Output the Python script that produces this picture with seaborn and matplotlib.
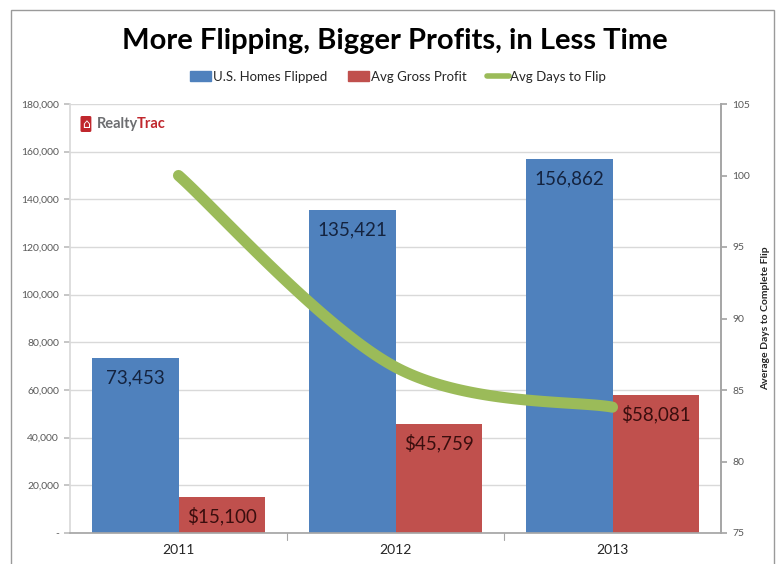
import numpy as np
import pandas as pd
import matplotlib
matplotlib.use("Agg")
import matplotlib.pyplot as plt
import matplotlib.patches as mpatches
from matplotlib.lines import Line2D
import seaborn as sns

years = ["2011", "2012", "2013"]
homes_flipped = [73453, 135421, 156862]
gross_profit = [15100, 45759, 58081]
days_to_flip = [100.0, 86.6, 83.8]
homes_labels = ["73,453", "135,421", "156,862"]
profit_labels = ["$15,100", "$45,759", "$58,081"]
left_ticks = [0, 20000, 40000, 60000, 80000, 100000, 120000, 140000, 160000, 180000]
left_tick_labels = ["-", "20,000", "40,000", "60,000", "80,000", "100,000", "120,000",
                    "140,000", "160,000", "180,000"]
right_ticks = [75, 80, 85, 90, 95, 100, 105]
series_names = ["U.S. Homes Flipped", "Avg Gross Profit", "Avg Days to Flip"]

BLUE = "#4F81BD"
RED = "#C0504D"
GREEN = "#9BBB59"

sns.set_theme(style="white")
plt.rcParams["font.family"] = ["Lato", "DejaVu Sans"]

fig = plt.figure(figsize=(7.81, 5.64), dpi=100)
fig.patch.set_facecolor("white")
ax = fig.add_axes([70 / 781, 1 - 533 / 564, (721 - 70) / 781, (533 - 104) / 564])

df = pd.DataFrame({
    "Year": years * 2,
    "Value": homes_flipped + gross_profit,
    "Series": [series_names[0]] * 3 + [series_names[1]] * 3,
})
sns.barplot(data=df, x="Year", y="Value", hue="Series", order=years,
            hue_order=series_names[:2], palette=[BLUE, RED], width=0.8,
            saturation=1, ax=ax, legend=False, errorbar=None, linewidth=0)

# labels inside top of bars
conts = ax.containers
for cont, labels, col in [(conts[0], homes_labels, "#14233F"), (conts[1], profit_labels, "#3A0E0E")]:
    for rect, lab in zip(cont, labels):
        ax.annotate(lab, (rect.get_x() + rect.get_width() / 2, rect.get_height()),
                    xytext=(0, -14), textcoords="offset points", ha="center", va="center",
                    fontsize=13.5, color=col)

ax.set_ylim(0, 180000)
ax.set_xlim(-0.5, 2.5)
ax.set_yticks(left_ticks)
ax.set_yticklabels(left_tick_labels, fontsize=7.5, color="#595959")
ax.set_xticks(range(3))
ax.set_xticklabels(years, fontsize=10, color="#262626")
ax.tick_params(axis="x", length=0, pad=8)
ax.tick_params(axis="y", length=4, color="#BFBFBF", pad=4, left=True)
ax.set_xlabel("")
ax.set_ylabel("")
ax.grid(axis="y", color="#D9D9D9", linewidth=1)
ax.set_axisbelow(True)
for b in [0.5, 1.5]:
    ax.plot([b, b], [0, -3000], color="#A6A6A6", lw=0.8, clip_on=False)
ax.spines["top"].set_visible(False)
ax.spines["left"].set_color("#D9D9D9")
ax.spines["bottom"].set_color("#A6A6A6")
ax.spines["right"].set_color("#A6A6A6")

# secondary axis: smoothed line (Excel-like Bezier smoothing through the data points)
ax2 = ax.twinx()
xs = np.arange(len(days_to_flip), dtype=float)
ys = np.array(days_to_flip)
P = np.column_stack([xs, ys])
Pext = np.vstack([P[0], P, P[-1]])
t = np.linspace(0, 1, 60)[:, None]
curve = []
for i in range(len(P) - 1):
    p0, p3 = Pext[i + 1], Pext[i + 2]
    c1 = p0 + (Pext[i + 2] - Pext[i]) / 6
    c2 = p3 - (Pext[i + 3] - Pext[i + 1]) / 6
    seg = (1 - t) ** 3 * p0 + 3 * (1 - t) ** 2 * t * c1 + 3 * (1 - t) * t ** 2 * c2 + t ** 3 * p3
    curve.append(seg)
curve = np.vstack(curve)
sns.lineplot(x=curve[:, 0], y=curve[:, 1], ax=ax2, color=GREEN, linewidth=8,
             sort=False, estimator=None, solid_capstyle="round")
ax2.set_ylim(75, 105)
ax2.set_yticks(right_ticks)
ax2.set_yticklabels([str(v) for v in right_ticks], fontsize=7.5, color="#595959")
ax2.tick_params(axis="y", length=4, color="#A6A6A6", pad=4, right=True)
ax2.set_ylabel("Average Days to Complete Flip", fontsize=7.5, fontweight="bold",
               color="#262626", labelpad=8)
ax2.grid(False)
for s in ["top", "left", "bottom"]:
    ax2.spines[s].set_visible(False)
ax2.spines["right"].set_color("#A6A6A6")
ax2.set_xlim(-0.5, 2.5)

# title
fig.text(395 / 781, 1 - 41 / 564, "More Flipping, Bigger Profits, in Less Time",
         ha="center", va="center", fontsize=21, fontweight="bold", color="black")

# legend
handles = [mpatches.Patch(color=BLUE, label=series_names[0]),
           mpatches.Patch(color=RED, label=series_names[1]),
           Line2D([0], [0], color=GREEN, lw=4, label=series_names[2])]
fig.legend(handles=handles, loc="center", bbox_to_anchor=(398 / 781, 1 - 77 / 564), ncol=3,
           frameon=False, fontsize=9.5, handlelength=1.6, handletextpad=0.1,
           columnspacing=1.6, handleheight=0.8)

# logo
fig.text(82 / 781, 1 - 124 / 564, "\u2302", fontsize=9, color="white", ha="left", va="center",
         family=["DejaVu Sans"],
         bbox=dict(boxstyle="round,pad=0.12", fc="#C0272D", ec="none"))
t_realty = fig.text(97 / 781, 1 - 124 / 564, "Realty", fontsize=10.5, fontweight="bold",
                    color="#6D6E71", ha="left", va="center")
fig.canvas.draw()
bb = t_realty.get_window_extent()
fig.text((bb.x1 - 1.5) / 781, 1 - 124 / 564, "Trac", fontsize=10.5, fontweight="bold",
         color="#C0272D", ha="left", va="center")

# outer border
fig.add_artist(mpatches.Rectangle((11 / 781, -0.05), (774 - 11) / 781, 1.05 - 10 / 564,
                                  transform=fig.transFigure, fill=False, ec="#9A9A9A", lw=1))

fig.savefig("out.png", dpi=100)
